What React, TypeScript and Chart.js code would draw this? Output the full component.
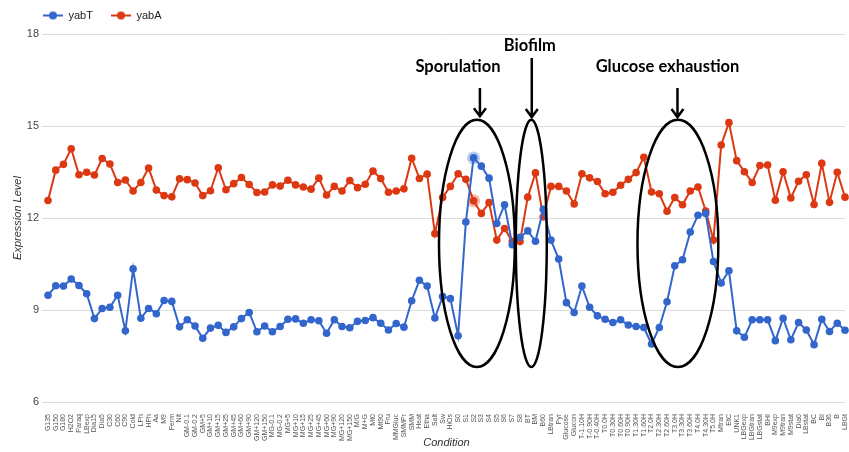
import React, { useEffect, useRef } from "react";
import { Chart, registerables } from "chart.js";

Chart.register(...registerables);

const conditions = [
  "G135", "G150", "G180", "H2O2", "Paraq", "LBexp", "Dia15", "Dia5", "C30", "C60",
  "C90", "Cold", "LPh", "HPh", "Aa", "M9", "Ferm", "Nit", "GM-0.1", "GM-0.2",
  "GM+5", "GM+10", "GM+15", "GM+25", "GM+45", "GM+60", "GM+90", "GM+120", "GM+150", "MG-0.1",
  "MG-0.2", "MG+5", "MG+10", "MG+15", "MG+25", "MG+45", "MG+60", "MG+90", "MG+120", "MG+150",
  "M/G", "M+G", "Mt0", "Mt90", "Fru", "MMGluc", "SMMPr", "SMM", "Heat", "Etha",
  "Salt", "Sw", "HiOs", "S0", "S1", "S2", "S3", "S4", "S5", "S6",
  "S7", "S8", "BT", "BM", "B60", "LBtran", "Pyr", "Glucose", "Glucon", "T-1.10H",
  "T-0.90H", "T-0.40H", "T0.0H", "T0.30H", "T0.60H", "T0.90H", "T1.30H", "T1.60H", "T2.0H", "T2.30H",
  "T2.60H", "T3.0H", "T3.30H", "T3.60H", "T4.0H", "T4.30H", "T5.0H", "Mtran", "EtC", "UNK1",
  "LBGexp", "LBGtran", "LBGstat", "BHI", "M9exp", "M9tran", "M9stat", "Dia0", "LBstat", "BC",
  "BI", "B36", "B", "LBGt",
];

const yabT = [
  9.48, 9.79, 9.78, 10.01, 9.8, 9.53, 8.72, 9.05, 9.09, 9.48,
  8.32, 10.34, 8.73, 9.05, 8.88, 9.31, 9.28, 8.45, 8.68, 8.48,
  8.08, 8.41, 8.5, 8.27, 8.45, 8.72, 8.92, 8.29, 8.48, 8.29,
  8.46, 8.7, 8.71, 8.57, 8.68, 8.65, 8.24, 8.68, 8.46, 8.42,
  8.63, 8.66, 8.75, 8.57, 8.35, 8.56, 8.44, 9.3, 9.97, 9.78,
  8.74, 9.44, 9.37, 8.16, 11.87, 13.96, 13.69, 13.3, 11.82, 12.43,
  11.13, 11.37, 11.58, 11.24, 12.28, 11.28, 10.66, 9.24, 8.92, 9.78,
  9.09, 8.81, 8.7, 8.59, 8.68, 8.51, 8.46, 8.43, 7.89, 8.43,
  9.27, 10.44, 10.64, 11.54, 12.09, 12.15, 10.58, 9.88, 10.28, 8.32,
  8.11, 8.68, 8.68, 8.68, 8.0, 8.73, 8.03, 8.59, 8.35, 7.87,
  8.7, 8.3, 8.57, 8.34,
];

const yabA = [
  12.57, 13.56, 13.75, 14.26, 13.41, 13.49, 13.4, 13.94, 13.76, 13.16,
  13.24, 12.88, 13.16, 13.63, 12.91, 12.73, 12.69, 13.28, 13.25, 13.14,
  12.73, 12.89, 13.64, 12.92, 13.12, 13.32, 13.09, 12.83, 12.85, 13.08,
  13.04, 13.23, 13.08, 13.01, 12.94, 13.3, 12.75, 13.03, 12.88, 13.22,
  12.99, 13.1, 13.53, 13.29, 12.84, 12.88, 12.95, 13.95, 13.29, 13.43,
  11.49, 12.67, 13.03, 13.44, 13.26, 12.56, 12.15, 12.5, 11.28, 11.66,
  11.23, 11.23, 12.68, 13.47, 12.04, 13.03, 13.03, 12.88, 12.46, 13.44,
  13.31, 13.19, 12.79, 12.84, 13.07, 13.26, 13.48, 13.98, 12.85, 12.79,
  12.22, 12.67, 12.43, 12.88, 13.01, 12.23, 11.28, 14.38, 15.11, 13.87,
  13.51, 13.16, 13.71, 13.73, 12.58, 13.51, 12.65, 13.2, 13.41, 12.44,
  13.78, 12.51, 13.49, 12.68,
];

const yTickValues = [6, 9, 12, 15, 18];
const seriesNames = ["yabT", "yabA"];
const highlightedIndex = 55;

// annotations, in data coordinates (category index / expression level)
const noteNames = ["Sporulation", "Biofilm", "Glucose exhaustion"];
const noteStart = [50.53, 60.46, 76.18];
const noteEnd = [60.33, 64.46, 86.63];
const noteLow = [7.14, 7.14, 7.14];
const noteHigh = [15.2, 15.2, 15.2];
const noteArrowAt = [55.82, 62.52, 81.35];
const noteArrowFrom = [16.24, 17.22, 16.24];
const noteArrowTo = [15.32, 15.29, 15.29];
const noteTextAt = [52.98, 62.27, 80.06];
const noteTextLevel = [16.94, 17.61, 16.94];

const COLORS = ["#3366cc", "#dc3912"];
const HALOS = ["rgba(51,102,204,0.35)", "rgba(220,57,18,0.35)"];
const FONT = "'Liberation Sans', Arial, sans-serif";

function makeLegendIcon(color: string) {
  const c = document.createElement("canvas");
  c.width = 20;
  c.height = 10;
  const g = c.getContext("2d")!;
  g.strokeStyle = color;
  g.lineWidth = 2;
  g.beginPath();
  g.moveTo(0, 5);
  g.lineTo(20, 5);
  g.stroke();
  g.fillStyle = color;
  g.beginPath();
  g.arc(10, 5, 4, 0, Math.PI * 2);
  g.fill();
  return c;
}

const notesPlugin = {
  id: "notes",
  afterLayout(chart: any) {
    if (chart.legend) {
      chart.legend.left += 25;
      chart.legend.top -= 3;
    }
  },
  beforeDatasetsDraw(chart: any) {
    const ctx = chart.ctx;
    ctx.save();
    chart.data.datasets.forEach((_: any, d: number) => {
      const pt = chart.getDatasetMeta(d).data[highlightedIndex];
      if (!pt) return;
      ctx.beginPath();
      ctx.arc(pt.x, pt.y, 6.5, 0, Math.PI * 2);
      ctx.fillStyle = HALOS[d];
      ctx.fill();
    });
    ctx.restore();
  },
  afterDatasetsDraw(chart: any) {
    const { ctx } = chart;
    const xs = chart.scales.x;
    const ys = chart.scales.y;
    ctx.save();
    ctx.strokeStyle = "#000";
    ctx.fillStyle = "#000";
    ctx.lineWidth = 2.5;
    for (let i = 0; i < noteNames.length; i++) {
      const x0 = xs.getPixelForValue(noteStart[i]);
      const x1 = xs.getPixelForValue(noteEnd[i]);
      const y0 = ys.getPixelForValue(noteHigh[i]);
      const y1 = ys.getPixelForValue(noteLow[i]);
      ctx.beginPath();
      ctx.ellipse((x0 + x1) / 2, (y0 + y1) / 2, (x1 - x0) / 2, (y1 - y0) / 2, 0, 0, Math.PI * 2);
      ctx.stroke();

      const ax = xs.getPixelForValue(noteArrowAt[i]);
      const aTop = ys.getPixelForValue(noteArrowFrom[i]);
      const aTip = ys.getPixelForValue(noteArrowTo[i]);
      ctx.beginPath();
      ctx.moveTo(ax, aTop);
      ctx.lineTo(ax, aTip);
      ctx.moveTo(ax - 6, aTip - 8);
      ctx.lineTo(ax, aTip);
      ctx.lineTo(ax + 6, aTip - 8);
      ctx.stroke();

      ctx.font = "bold 16.5px Lato, 'Open Sans', sans-serif";
      ctx.textAlign = "center";
      ctx.textBaseline = "middle";
      ctx.fillText(noteNames[i], xs.getPixelForValue(noteTextAt[i]), ys.getPixelForValue(noteTextLevel[i]));
    }
    ctx.restore();
  },
};

export default function App() {
  const ref = useRef<HTMLCanvasElement | null>(null);

  useEffect(() => {
    if (!ref.current) return;
    const icons = COLORS.map(makeLegendIcon);
    const chart = new Chart(ref.current, {
      type: "line",
      data: {
        labels: conditions,
        datasets: [yabT, yabA].map((vals, i) => ({
          label: seriesNames[i],
          data: vals,
          borderColor: COLORS[i],
          backgroundColor: COLORS[i],
          pointBackgroundColor: COLORS[i],
          borderWidth: 2,
          pointRadius: 3.8,
          pointBorderWidth: 0,
          tension: 0,
          fill: false,
        })),
      },
      options: {
        animation: false,
        responsive: false,
        devicePixelRatio: 1,
        events: [],
        layout: { padding: { left: 0, right: 2, top: -5, bottom: 0 } },
        plugins: {
          tooltip: { enabled: false },
          legend: {
            display: true,
            position: "top",
            align: "start",
            labels: {
              usePointStyle: true,
              pointStyleWidth: 20,
              padding: 18,
              color: "#222",
              font: { size: 11, family: FONT },
              generateLabels: (c: any) =>
                c.data.datasets.map((ds: any, i: number) => ({
                  text: ds.label,
                  pointStyle: icons[i],
                  fillStyle: COLORS[i],
                  strokeStyle: COLORS[i],
                  lineWidth: 0,
                  hidden: false,
                  datasetIndex: i,
                  fontColor: "#222",
                })),
            },
          },
        },
        scales: {
          x: {
            type: "category",
            offset: false,
            grid: { display: false },
            border: { display: false },
            ticks: {
              autoSkip: false,
              maxRotation: 90,
              minRotation: 90,
              padding: 4,
              color: "#555",
              font: { size: 7, family: FONT },
            },
            title: {
              display: true,
              text: "Condition",
              color: "#333",
              font: { size: 11, style: "italic", family: FONT },
              padding: { top: 0, bottom: 2 },
            },
            afterFit: (s: any) => {
              s.height = 50;
              s.paddingLeft = 0;
              s.paddingRight = 0;
            },
          },
          y: {
            min: 6,
            max: 18,
            afterBuildTicks: (s: any) => {
              s.ticks = yTickValues.map((v) => ({ value: v }));
            },
            grid: { color: "#dcdcdc", tickColor: "#dcdcdc", drawTicks: true, tickLength: 6, lineWidth: 1 },
            border: { display: false },
            ticks: { padding: 3, color: "#444", font: { size: 11, family: FONT } },
            title: {
              display: true,
              text: "Expression Level",
              color: "#333",
              font: { size: 11, style: "italic", family: FONT },
              padding: { top: 11, bottom: 0 },
            },
            afterFit: (s: any) => {
              s.width = 48;
            },
          },
        },
      },
      plugins: [notesPlugin],
    } as any);
    return () => chart.destroy();
  }, []);

  return (
    <div style={{ position: "fixed", left: 0, top: 0, width: 849, height: 452, background: "#fff" }}>
      <canvas ref={ref} width={849} height={452} />
    </div>
  );
}
